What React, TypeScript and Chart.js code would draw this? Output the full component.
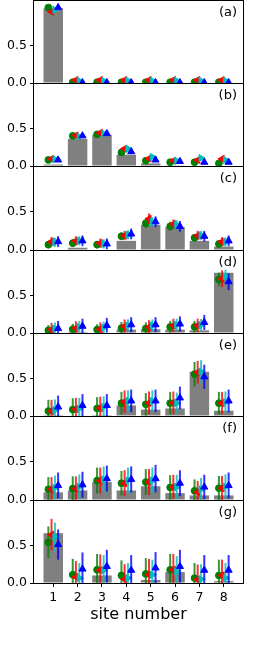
import React, { useEffect, useRef } from 'react';
import { Chart, registerables } from 'chart.js';

Chart.register(...registerables);
Chart.defaults.font.family = "'DejaVu Sans', sans-serif";
Chart.defaults.color = '#000';

// ---------- data ----------
const SITES = [1, 2, 3, 4, 5, 6, 7, 8];
const Y_TICKS = [0, 0.5];
const PANEL_LABELS = ['(a)', '(b)', '(c)', '(d)', '(e)', '(f)', '(g)'];
const X_TITLE = 'site number';

// gray bars, one row per panel
const BAR_HEIGHTS = [
  [0.99, 0, 0, 0, 0, 0, 0, 0],
  [0.02, 0.36, 0.41, 0.15, 0.035, 0.01, 0, 0],
  [0.0, 0.03, 0, 0.12, 0.33, 0.3, 0.12, 0.045],
  [0, 0.015, 0, 0.045, 0.05, 0.045, 0.035, 0.8],
  [0.012, 0, 0.012, 0.14, 0.085, 0.1, 0.585, 0.07],
  [0.1, 0.125, 0.235, 0.125, 0.18, 0.09, 0.06, 0.06],
  [0.66, 0, 0.1, 0, 0.04, 0.145, 0, 0.025],
];

const GREEN_VALUES = [
  [1.0, 0.01, 0.01, 0.01, 0.01, 0.01, 0.01, 0.01],
  [0.08, 0.4, 0.42, 0.18, 0.07, 0.05, 0.05, 0.035],
  [0.07, 0.09, 0.07, 0.18, 0.35, 0.31, 0.16, 0.08],
  [0.035, 0.05, 0.045, 0.065, 0.06, 0.08, 0.08, 0.71],
  [0.065, 0.085, 0.1, 0.17, 0.155, 0.17, 0.555, 0.17],
  [0.14, 0.15, 0.255, 0.22, 0.235, 0.165, 0.12, 0.155],
  [0.54, 0.11, 0.175, 0.1, 0.12, 0.175, 0.065, 0.1],
];
const GREEN_ERRORS = [
  [0.01, 0.005, 0.005, 0.005, 0.005, 0.005, 0.005, 0.005],
  [0.02, 0.02, 0.02, 0.02, 0.015, 0.015, 0.015, 0.015],
  [0.05, 0.05, 0.05, 0.05, 0.06, 0.06, 0.05, 0.05],
  [0.07, 0.07, 0.07, 0.08, 0.08, 0.08, 0.08, 0.09],
  [0.15, 0.15, 0.15, 0.15, 0.15, 0.15, 0.16, 0.15],
  [0.16, 0.16, 0.17, 0.16, 0.17, 0.16, 0.15, 0.16],
  [0.21, 0.21, 0.21, 0.2, 0.21, 0.21, 0.2, 0.21],
];

const RED_VALUES = [
  [0.945, 0.04, 0.04, 0.04, 0.04, 0.04, 0.04, 0.04],
  [0.095, 0.405, 0.44, 0.23, 0.1, 0.07, 0.08, 0.095],
  [0.11, 0.12, 0.09, 0.19, 0.41, 0.34, 0.19, 0.11],
  [0.045, 0.065, 0.05, 0.09, 0.08, 0.1, 0.1, 0.72],
  [0.065, 0.09, 0.105, 0.19, 0.175, 0.175, 0.58, 0.17],
  [0.14, 0.15, 0.255, 0.22, 0.235, 0.17, 0.1, 0.155],
  [0.64, 0.08, 0.17, 0.05, 0.11, 0.175, 0.045, 0.1],
];
const RED_ERRORS = [
  [0.01, 0.005, 0.005, 0.005, 0.005, 0.005, 0.005, 0.005],
  [0.02, 0.02, 0.02, 0.02, 0.015, 0.015, 0.015, 0.015],
  [0.06, 0.06, 0.06, 0.06, 0.07, 0.06, 0.06, 0.06],
  [0.09, 0.09, 0.09, 0.09, 0.09, 0.09, 0.09, 0.11],
  [0.15, 0.15, 0.15, 0.15, 0.15, 0.15, 0.15, 0.15],
  [0.16, 0.16, 0.17, 0.17, 0.17, 0.16, 0.15, 0.16],
  [0.21, 0.21, 0.21, 0.2, 0.21, 0.21, 0.2, 0.21],
];

const CYAN_VALUES = [
  [0.97, 0.03, 0.03, 0.03, 0.03, 0.03, 0.03, 0.03],
  [0.09, 0.39, 0.43, 0.23, 0.12, 0.07, 0.105, 0.08],
  [0.1, 0.12, 0.08, 0.2, 0.37, 0.33, 0.19, 0.105],
  [0.06, 0.08, 0.07, 0.1, 0.1, 0.11, 0.105, 0.75],
  [0.08, 0.1, 0.12, 0.2, 0.2, 0.17, 0.59, 0.185],
  [0.16, 0.175, 0.27, 0.255, 0.255, 0.17, 0.14, 0.175],
  [0.61, 0.065, 0.17, 0.065, 0.11, 0.155, 0.05, 0.065],
];
const CYAN_ERRORS = [
  [0.01, 0.005, 0.005, 0.005, 0.005, 0.005, 0.005, 0.005],
  [0.02, 0.02, 0.02, 0.02, 0.015, 0.015, 0.015, 0.015],
  [0.06, 0.06, 0.06, 0.06, 0.06, 0.06, 0.06, 0.06],
  [0.08, 0.08, 0.08, 0.08, 0.08, 0.08, 0.08, 0.09],
  [0.14, 0.14, 0.14, 0.14, 0.14, 0.14, 0.15, 0.14],
  [0.16, 0.16, 0.17, 0.17, 0.17, 0.16, 0.15, 0.16],
  [0.19, 0.2, 0.2, 0.2, 0.2, 0.2, 0.2, 0.2],
];

const BLUE_VALUES = [
  [1.0, 0.005, 0.005, 0.005, 0.005, 0.005, 0.005, 0.005],
  [0.08, 0.4, 0.43, 0.19, 0.08, 0.06, 0.05, 0.05],
  [0.11, 0.12, 0.08, 0.21, 0.37, 0.31, 0.18, 0.12],
  [0.06, 0.09, 0.1, 0.11, 0.11, 0.12, 0.14, 0.68],
  [0.12, 0.14, 0.14, 0.2, 0.2, 0.24, 0.52, 0.2],
  [0.19, 0.2, 0.28, 0.27, 0.28, 0.22, 0.17, 0.19],
  [0.51, 0.185, 0.22, 0.17, 0.2, 0.22, 0.17, 0.17],
];
const BLUE_ERRORS = [
  [0.01, 0.005, 0.005, 0.005, 0.005, 0.005, 0.005, 0.005],
  [0.02, 0.02, 0.02, 0.02, 0.015, 0.015, 0.015, 0.015],
  [0.07, 0.07, 0.07, 0.07, 0.07, 0.07, 0.07, 0.07],
  [0.1, 0.1, 0.1, 0.1, 0.1, 0.1, 0.1, 0.11],
  [0.15, 0.15, 0.15, 0.15, 0.15, 0.15, 0.16, 0.15],
  [0.17, 0.17, 0.17, 0.17, 0.18, 0.17, 0.16, 0.17],
  [0.2, 0.22, 0.22, 0.2, 0.21, 0.22, 0.2, 0.2],
];

const SERIES = [
  { vals: GREEN_VALUES, errs: GREEN_ERRORS, offset: -0.2, color: '#008000', errColor: 'rgba(0,128,0,0.8)', style: 'circle', rot: 0, radius: 3.4 },
  { vals: RED_VALUES, errs: RED_ERRORS, offset: -0.07, color: '#ff0000', errColor: 'rgba(255,0,0,0.8)', style: 'triangle', rot: -90, radius: 4.1 },
  { vals: CYAN_VALUES, errs: CYAN_ERRORS, offset: 0.07, color: '#00bfbf', errColor: 'rgba(0,191,191,0.8)', style: 'triangle', rot: 90, radius: 4.1 },
  { vals: BLUE_VALUES, errs: BLUE_ERRORS, offset: 0.2, color: '#0000ff', errColor: 'rgba(0,0,255,0.8)', style: 'triangle', rot: 0, radius: 4.1 },
];

// ---------- layout ----------
const W = 270;
const H = 648;
const PLOT_LEFT = 34;
const PLOT_RIGHT = 243;
const PANEL_BOTTOMS = [83, 166, 250, 333, 416, 500, 583];
const PAD = 12;
const FONT = "'DejaVu Sans', sans-serif";

const framePlugin = {
  id: 'frame',
  afterDatasetsDraw(chart: any) {
    const { ctx, chartArea } = chart;
    const { left, right, top, bottom } = chartArea;
    ctx.save();
    ctx.strokeStyle = '#000';
    ctx.lineWidth = 1;
    ctx.strokeRect(left - 0.5, top + 0.5, right - left + 1, bottom - top);
    ctx.restore();
  },
};

function Panel({ index }: { index: number }) {
  const ref = useRef<HTMLCanvasElement>(null);
  const isLast = index === PANEL_BOTTOMS.length - 1;
  const top = index === 0 ? 0 : PANEL_BOTTOMS[index - 1];
  const bottom = PANEL_BOTTOMS[index];
  const canvasTop = top - PAD;
  const canvasHeight = isLast ? H - canvasTop : bottom - top + 2 * PAD;

  useEffect(() => {
    if (!ref.current) return;
    const datasets: any[] = [];
    datasets.push({
      type: 'bar',
      data: SITES.map((s, j) => ({ x: s, y: BAR_HEIGHTS[index][j] })),
      backgroundColor: '#808080',
      borderWidth: 0,
      barThickness: 19.5,
      grouped: false,
      inflateAmount: 0,
      order: 100,
    });
    SERIES.forEach((s, k) => {
      datasets.push({
        type: 'bar',
        data: SITES.map((x, j) => ({
          x: x + s.offset,
          y: [s.vals[index][j] - s.errs[index][j], s.vals[index][j] + s.errs[index][j]],
        })),
        backgroundColor: s.errColor,
        borderWidth: 0,
        barThickness: 2,
        grouped: false,
        inflateAmount: 0,
        order: 50 - 2 * k,
      });
      datasets.push({
        type: 'scatter',
        data: SITES.map((x, j) => ({ x: x + s.offset, y: s.vals[index][j] })),
        pointStyle: s.style,
        pointRotation: s.rot,
        pointRadius: s.radius,
        pointBackgroundColor: s.color,
        pointBorderColor: s.color,
        pointBorderWidth: 1,
        showLine: false,
        order: 49 - 2 * k,
      });
    });

    const chart = new Chart(ref.current, {
      type: 'bar',
      data: { datasets },
      plugins: [framePlugin],
      options: {
        animation: false,
        responsive: false,
        maintainAspectRatio: false,
        devicePixelRatio: 1,
        events: [],
        layout: { padding: { left: 0, right: W - PLOT_RIGHT, top: PAD, bottom: isLast ? 0 : PAD } },
        plugins: { legend: { display: false }, tooltip: { enabled: false }, title: { display: false } },
        scales: {
          x: {
            type: 'linear',
            min: 0.21,
            max: 8.79,
            offset: false,
            display: isLast,
            afterBuildTicks: (scale: any) => {
              scale.ticks = SITES.map((v) => ({ value: v }));
            },
            afterFit: (scale: any) => {
              if (!isLast) {
                scale.height = 0;
                return;
              }
              scale.height = H - PANEL_BOTTOMS[PANEL_BOTTOMS.length - 1];
              scale.paddingLeft = 0;
              scale.paddingRight = 0;
            },
            ticks: {
              autoSkip: false,
              maxRotation: 0,
              padding: 3,
              color: '#000',
              font: { family: FONT, size: 12.5 },
              callback: (v: any) => String(v),
            },
            grid: { display: true, offset: false, drawOnChartArea: false, drawTicks: true, tickLength: 4, color: '#000', lineWidth: 1 },
            border: { display: false },
            title: {
              display: true,
              text: X_TITLE,
              color: '#000',
              font: { family: FONT, size: 16 },
              padding: { top: 0, bottom: 24 },
            },
          },
          y: {
            type: 'linear',
            min: 0,
            max: 1.1,
            afterBuildTicks: (scale: any) => {
              scale.ticks = Y_TICKS.map((v) => ({ value: v }));
            },
            afterFit: (scale: any) => {
              scale.width = PLOT_LEFT;
              scale.paddingTop = 0;
              scale.paddingBottom = 0;
            },
            ticks: {
              padding: 3,
              color: '#000',
              font: { family: FONT, size: 12.5 },
              callback: (v: any) => Number(v).toFixed(1),
            },
            grid: { display: true, drawOnChartArea: false, drawTicks: true, tickLength: 4, color: '#000', lineWidth: 1 },
            border: { display: false },
          },
        },
      } as any,
    });
    return () => chart.destroy();
  }, [index]);

  return (
    <>
      <canvas
        ref={ref}
        width={W}
        height={canvasHeight}
        style={{ position: 'absolute', left: 0, top: canvasTop, width: W, height: canvasHeight, display: 'block' }}
      />
      <div
        style={{
          position: 'absolute',
          right: W - 237,
          top: top + 5.4,
          fontFamily: FONT,
          fontSize: 13,
          lineHeight: '13px',
          color: '#000',
          whiteSpace: 'nowrap',
        }}
      >
        {PANEL_LABELS[index]}
      </div>
    </>
  );
}

export default function App() {
  return (
    <div style={{ position: 'absolute', left: 0, top: 0, width: W, height: H, background: '#fff', overflow: 'hidden' }}>
      {PANEL_LABELS.map((_, i) => (
        <Panel key={i} index={i} />
      ))}
    </div>
  );
}
